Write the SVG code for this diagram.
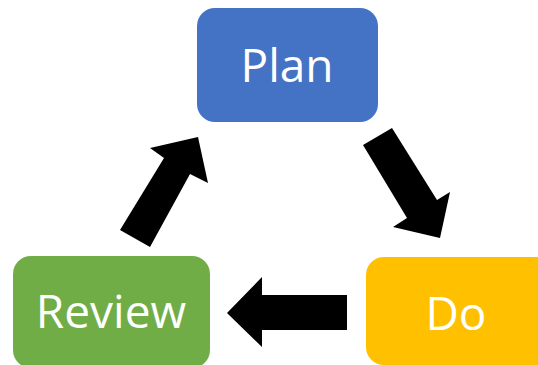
<svg xmlns="http://www.w3.org/2000/svg" width="538" height="365" viewBox="0 0 538 365">
<style>
.lbl{font-family:"Open Sans","Noto Sans",sans-serif;font-size:46px;fill:#fff;text-anchor:middle}
.arr{fill:#000}
</style>
<rect width="538" height="365" fill="#fff"/>
<g id="plan">
<rect x="197" y="8" width="181" height="114" rx="18" fill="#4472C4"/>
<text class="lbl" x="287" y="82">Plan</text>
</g>
<g id="do">
<rect x="366" y="257" width="200" height="108" rx="18" fill="#FFC000"/>
<text class="lbl" x="456" y="330">Do</text>
</g>
<g id="review">
<rect x="13" y="256" width="197" height="112" rx="18" fill="#70AD47"/>
<text class="lbl" x="111" y="328">Review</text>
</g>
<g id="connectors">
<polygon class="arr" points="363,145 392,128 437,200 450,192 440,238 393,227 407,218"/>
<polygon class="arr" points="347,295 347,330 262,330 262,347 227,313 262,277 262,295"/>
<polygon class="arr" points="120,230 164,158 150,148 198,137 208,183 190,174 150,247"/>
</g>
</svg>
